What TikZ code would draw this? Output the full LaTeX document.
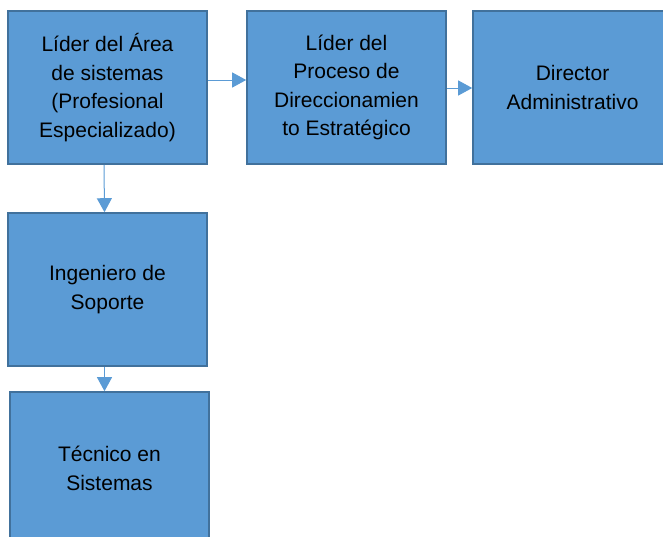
\documentclass[tikz,border=0pt]{standalone}
\usepackage{fontspec}
\setmainfont{Liberation Sans}
\usepackage{tikz}
\usetikzlibrary{arrows.meta,positioning}
\definecolor{cargoFill}{HTML}{5B9BD5}
\definecolor{cargoLine}{HTML}{41719C}

\begin{document}
\begin{tikzpicture}
	\useasboundingbox (0,0) rectangle (663pt,-536pt);
	\begin{scope}[node distance=200pt,on grid,
		>={Triangle[length=14pt,width=15pt]},
		cargo/.style={rectangle,draw=cargoLine,line width=1.6pt,fill=cargoFill,
			minimum width=199pt,minimum height=153pt,inner sep=0pt,
			font=\fontsize{21}{28.5}\selectfont,align=center},
		flecha/.style={->,draw=cargoFill,line width=1pt}],
		\node [cargo]	(lider)		at (107.5pt,-87.5pt)	{Líder del Área \\ de sistemas \\ (Profesional \\ Especializado)};
		\node [cargo]	(proceso)	[right=239pt of lider]	{Líder del \\ Proceso de \\ Direccionamien \\ to Estratégico};
		\node [cargo]	(director)	[right=226pt of proceso]	{Director \\ Administrativo};
		\node [cargo]	(ingeniero)	[below=202pt of lider]	{Ingeniero de \\ Soporte};
		\node [cargo]	(tecnico)	[below=179pt of ingeniero,xshift=2pt]	{Técnico en \\ Sistemas};
		\path
		([yshift=7.5pt]lider.east) edge [flecha]	([yshift=7.5pt]proceso.west)
		([yshift=-0.5pt]proceso.east) edge [flecha]	([yshift=-0.5pt]director.west)
		([xshift=-3.5pt]lider.south) edge [flecha]	([xshift=-3pt]ingeniero.north)
		([xshift=-3pt]ingeniero.south) edge [flecha]	([xshift=-5pt]tecnico.north)
		;
	\end{scope}
\end{tikzpicture}
\end{document}
